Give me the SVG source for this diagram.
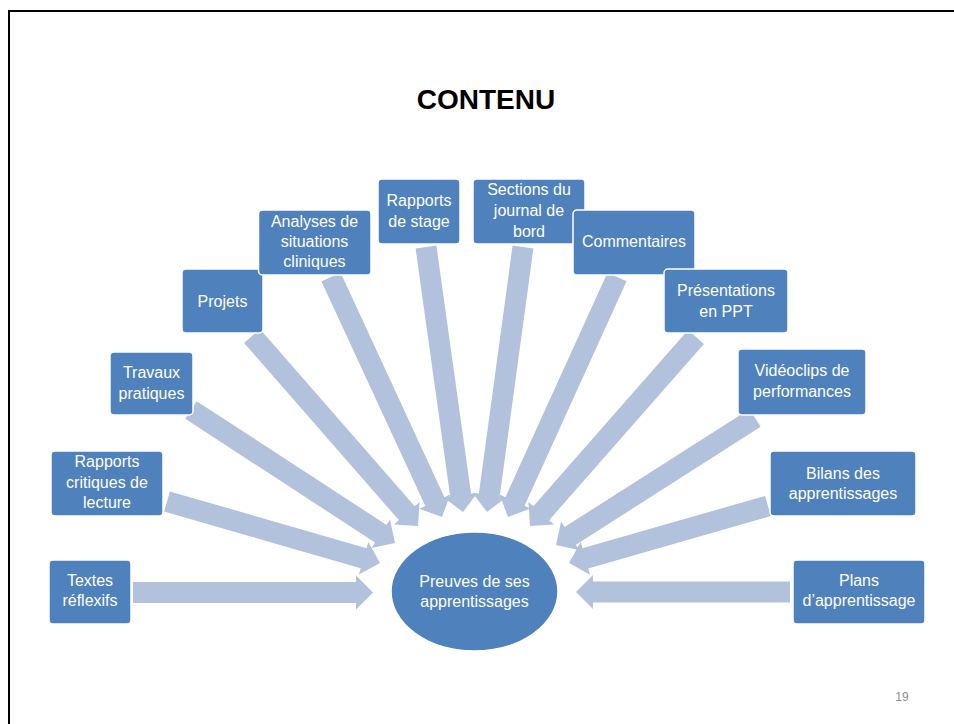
<svg xmlns="http://www.w3.org/2000/svg" width="954" height="724" viewBox="0 0 954 724">
<style>
.box{fill:#4F81BD;stroke:#FFFFFF;stroke-width:1.5}
.lbl{font-family:"Liberation Sans",Arial,sans-serif;font-size:16px;fill:#FFFFFF;text-anchor:middle}
.arr{fill:#B2C1DC}
</style>
<rect x="0" y="0" width="954" height="724" fill="#FFFFFF"/>
<path d="M9,724 V11 H954" fill="none" stroke="#000000" stroke-width="2"/>
<text x="486" y="109" font-family="'Liberation Sans',Arial,sans-serif" font-size="28" font-weight="bold" text-anchor="middle" fill="#000000">CONTENU</text>
<g id="connectors">
<polygon class="arr" transform="translate(133,592.5) rotate(0)" points="0,-10.5 223,-10.5 223,-17 240,0 223,17 223,10.5 0,10.5"/>
<polygon class="arr" transform="translate(790,592) rotate(180)" points="0,-10.5 197,-10.5 197,-17 214,0 197,17 197,10.5 0,10.5"/>
<polygon class="arr" transform="translate(167,501.5) rotate(16.1)" points="0,-10.5 204.7,-10.5 204.7,-17 221.7,0 204.7,17 204.7,10.5 0,10.5"/>
<polygon class="arr" transform="translate(191,410) rotate(33.1)" points="0,-10.5 226.5,-10.5 226.5,-17 243.5,0 226.5,17 226.5,10.5 0,10.5"/>
<polygon class="arr" transform="translate(252,336) rotate(48.86)" points="0,-10.5 235.3,-10.5 235.3,-17 252.3,0 235.3,17 235.3,10.5 0,10.5"/>
<polygon class="arr" transform="translate(331,277) rotate(65.18)" points="0,-10.5 247.4,-10.5 247.4,-17 264.4,0 247.4,17 247.4,10.5 0,10.5"/>
<polygon class="arr" transform="translate(426,247) rotate(82.05)" points="0,-10.5 250.6,-10.5 250.6,-17 267.6,0 250.6,17 250.6,10.5 0,10.5"/>
<polygon class="arr" transform="translate(523,247) rotate(97.74)" points="0,-10.5 250.4,-10.5 250.4,-17 267.4,0 250.4,17 250.4,10.5 0,10.5"/>
<polygon class="arr" transform="translate(617,277) rotate(114.43)" points="0,-10.5 246.6,-10.5 246.6,-17 263.6,0 246.6,17 246.6,10.5 0,10.5"/>
<polygon class="arr" transform="translate(696,337) rotate(131.29)" points="0,-10.5 234.5,-10.5 234.5,-17 251.5,0 234.5,17 234.5,10.5 0,10.5"/>
<polygon class="arr" transform="translate(755,418) rotate(147.46)" points="0,-10.5 219.1,-10.5 219.1,-17 236.1,0 219.1,17 219.1,10.5 0,10.5"/>
<polygon class="arr" transform="translate(768,506) rotate(164.02)" points="0,-10.5 190,-10.5 190,-17 207,0 190,17 190,10.5 0,10.5"/>
</g>
<g id="center">
<ellipse cx="474.5" cy="591.5" rx="83.5" ry="59.5" fill="#4F81BD" stroke="#FFFFFF" stroke-width="1.5"/>
<text class="lbl"><tspan x="474.5" y="586.5">Preuves de ses</tspan><tspan x="474.5" y="606.5">apprentissages</tspan></text>
</g>
<g id="n-textes">
<rect class="box" x="49" y="560" width="82" height="64" rx="4"/>
<text class="lbl"><tspan x="90" y="586">Textes</tspan><tspan x="90" y="606">réflexifs</tspan></text>
</g>
<g id="n-rapports-critiques">
<rect class="box" x="51" y="451" width="112" height="65" rx="4"/>
<text class="lbl"><tspan x="107" y="467">Rapports</tspan><tspan x="107" y="487.5">critiques de</tspan><tspan x="107" y="507.5">lecture</tspan></text>
</g>
<g id="n-travaux">
<rect class="box" x="110" y="352" width="83" height="63" rx="4"/>
<text class="lbl"><tspan x="151.5" y="378">Travaux</tspan><tspan x="151.5" y="399">pratiques</tspan></text>
</g>
<g id="n-projets">
<rect class="box" x="182" y="269" width="81" height="64" rx="4"/>
<text class="lbl"><tspan x="222.5" y="306.5">Projets</tspan></text>
</g>
<g id="n-analyses">
<rect class="box" x="258.5" y="210" width="112.5" height="65" rx="4"/>
<text class="lbl"><tspan x="314.5" y="226.5">Analyses de</tspan><tspan x="314.5" y="247">situations</tspan><tspan x="314.5" y="267">cliniques</tspan></text>
</g>
<g id="n-rapports-stage">
<rect class="box" x="378" y="179" width="82" height="65" rx="4"/>
<text class="lbl"><tspan x="419" y="205.5">Rapports</tspan><tspan x="419" y="227">de stage</tspan></text>
</g>
<g id="n-sections">
<rect class="box" x="473" y="179" width="112" height="65" rx="4"/>
<text class="lbl"><tspan x="529" y="195">Sections du</tspan><tspan x="529" y="216">journal de</tspan><tspan x="529" y="236.5">bord</tspan></text>
</g>
<g id="n-commentaires">
<rect class="box" x="573" y="210" width="122" height="65" rx="4"/>
<text class="lbl"><tspan x="634" y="246.5">Commentaires</tspan></text>
</g>
<g id="n-presentations">
<rect class="box" x="664" y="269" width="124" height="64" rx="4"/>
<text class="lbl"><tspan x="726" y="295.5">Présentations</tspan><tspan x="726" y="316.5">en PPT</tspan></text>
</g>
<g id="n-videoclips">
<rect class="box" x="738" y="349" width="128" height="66" rx="4"/>
<text class="lbl"><tspan x="802" y="376">Vidéoclips de</tspan><tspan x="802" y="396.5">performances</tspan></text>
</g>
<g id="n-bilans">
<rect class="box" x="770" y="451" width="146" height="65" rx="4"/>
<text class="lbl"><tspan x="843" y="478.5">Bilans des</tspan><tspan x="843" y="498.5">apprentissages</tspan></text>
</g>
<g id="n-plans">
<rect class="box" x="793" y="560" width="132" height="64" rx="4"/>
<text class="lbl"><tspan x="859" y="586">Plans</tspan><tspan x="859" y="606">d’apprentissage</tspan></text>
</g>
<text x="902" y="701" font-family="'Liberation Sans',Arial,sans-serif" font-size="12" fill="#8C8C8C" text-anchor="middle">19</text>
</svg>
